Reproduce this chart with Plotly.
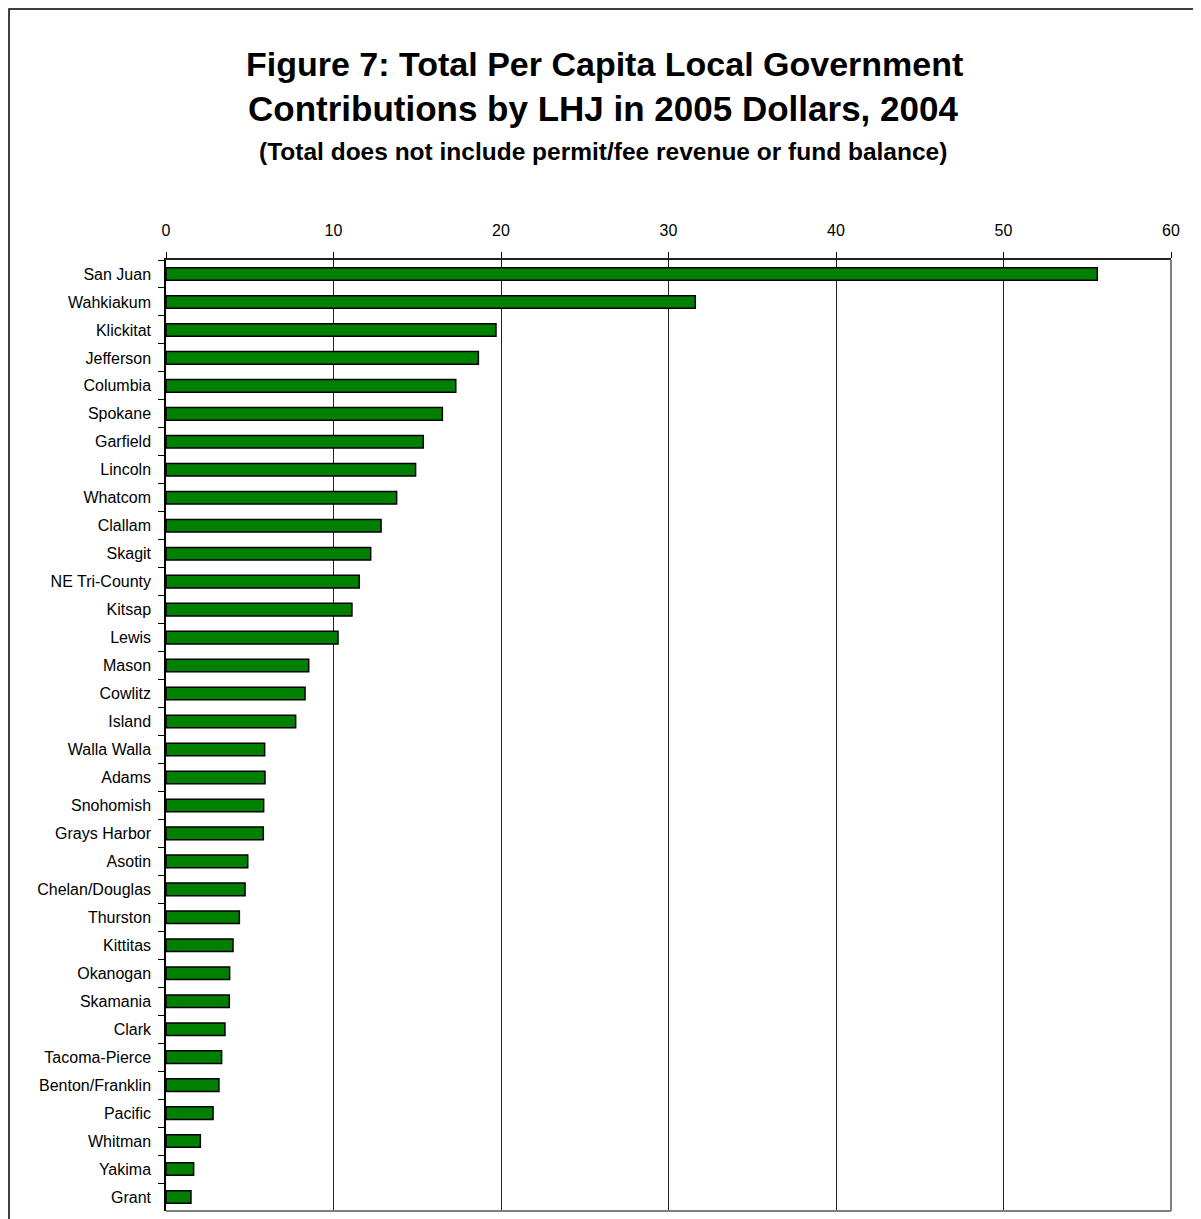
import plotly.graph_objects as go

categories = ["San Juan", "Wahkiakum", "Klickitat", "Jefferson", "Columbia", "Spokane",
              "Garfield", "Lincoln", "Whatcom", "Clallam", "Skagit", "NE Tri-County",
              "Kitsap", "Lewis", "Mason", "Cowlitz", "Island", "Walla Walla", "Adams",
              "Snohomish", "Grays Harbor", "Asotin", "Chelan/Douglas", "Thurston",
              "Kittitas", "Okanogan", "Skamania", "Clark", "Tacoma-Pierce",
              "Benton/Franklin", "Pacific", "Whitman", "Yakima", "Grant"]
values = [55.6, 31.6, 19.7, 18.65, 17.3, 16.5,
          15.36, 14.9, 13.77, 12.84, 12.22, 11.54,
          11.1, 10.27, 8.52, 8.3, 7.74, 5.89, 5.91,
          5.83, 5.81, 4.88, 4.72, 4.38,
          4.0, 3.8, 3.78, 3.52, 3.32,
          3.16, 2.81, 2.05, 1.65, 1.49]
x_ticks = [0, 10, 20, 30, 40, 50, 60]

# page body has an 8px margin; figure sized to fit inside the window
OFF = 8
W, H = 1201 - OFF, 1219 - OFF
ML, MR, MT, MB = 166 - OFF, 30, 260 - OFF, 8
PW, PH = W - ML - MR, H - MT - MB

def px(x):  # screen pixel -> paper
    return (x - OFF - ML) / PW

def py(y):
    return (H - MB - (y - OFF)) / PH

fig = go.Figure()
fig.add_trace(go.Bar(
    x=values, y=categories, orientation="h",
    marker=dict(color="#008000", line=dict(color="#000000", width=1.5)),
    hoverinfo="x+y",
))

fig.update_layout(
    width=W, height=H,
    margin=dict(l=ML, r=MR, t=MT, b=MB),
    paper_bgcolor="white", plot_bgcolor="white",
    bargap=0.55,
    showlegend=False,
    font=dict(family="Liberation Sans, Arial, sans-serif", size=16, color="black"),
    xaxis=dict(
        side="top", range=[0, 60], tickvals=x_ticks,
        showgrid=True, gridcolor="#222222", gridwidth=1,
        zeroline=False, ticks="outside", ticklen=6, tickcolor="black",
        showline=True, linecolor="#222222", linewidth=1.5,
        tickfont=dict(size=16), ticklabelstandoff=10,
    ),
    yaxis=dict(
        categoryorder="array", categoryarray=categories, autorange="reversed",
        tickson="boundaries", ticks="outside", ticklen=6, tickcolor="black",
        showline=True, linecolor="black", linewidth=1.5,
        showgrid=False, zeroline=False,
        tickfont=dict(size=16), ticklabelstandoff=10,
    ),
)

shapes = [
    dict(type="line", xref="paper", yref="paper", x0=1, x1=1, y0=0, y1=1,
         line=dict(color="#808080", width=2)),
    dict(type="line", xref="paper", yref="paper", x0=0, x1=1, y0=0, y1=0,
         line=dict(color="#808080", width=2)),
    dict(type="rect", xref="paper", yref="paper",
         x0=px(9), x1=px(1197), y0=py(1240), y1=py(9),
         line=dict(color="black", width=1.5), fillcolor="rgba(0,0,0,0)", layer="below"),
]
fig.update_layout(shapes=shapes)

title_font = "Liberation Sans, Arial, sans-serif"
annotations = [
    dict(text="<b>Figure 7: Total Per Capita Local Government</b>", x=px(604), y=py(64),
         font=dict(size=34, family=title_font)),
    dict(text="<b>Contributions by LHJ in 2005 Dollars, 2004</b>", x=px(603), y=py(108),
         font=dict(size=35, family=title_font)),
    dict(text="<b>(Total does not include permit/fee revenue or fund balance)</b>", x=px(603), y=py(151),
         font=dict(size=24.5, family=title_font)),
]
for a in annotations:
    a.update(xref="paper", yref="paper", showarrow=False, xanchor="center", yanchor="middle")
fig.update_layout(annotations=annotations)

fig.write_html("out.html")
